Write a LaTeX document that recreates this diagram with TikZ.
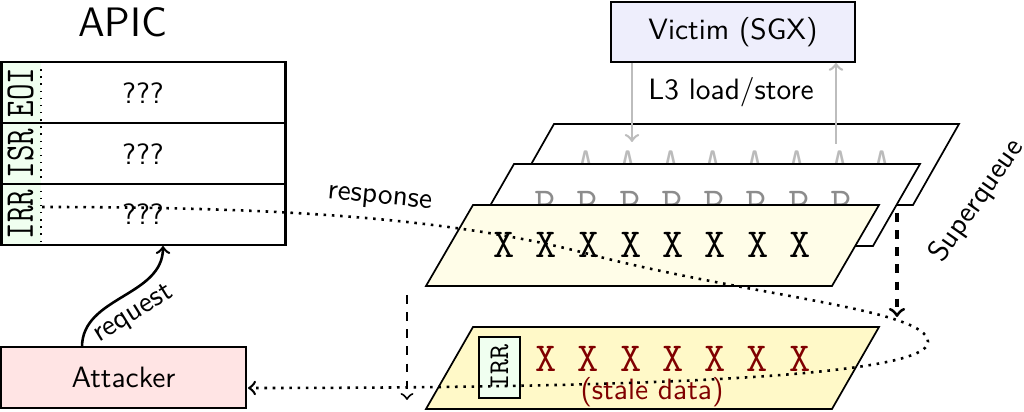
\documentclass[tikz,border=0pt]{standalone}
\usepackage{graphicx}
\usetikzlibrary{calc}
\definecolor{lblgreen}{HTML}{F0FFF0}
\definecolor{victimc}{HTML}{EEEEFC}
\definecolor{attc}{HTML}{FFE4E4}
\definecolor{frontc}{HTML}{FFFDE8}
\definecolor{lowerc}{HTML}{FFF9C8}
\definecolor{stalec}{HTML}{800000}
\definecolor{agray}{HTML}{BBBBBB}
\definecolor{pgray}{HTML}{8C8C8C}
\definecolor{arrgray}{HTML}{BDBDBD}
\begin{document}
\begin{tikzpicture}[x=0.35pt,y=-0.35pt,
  lbl/.style={font=\fontsize{10.3}{12}\selectfont\sffamily, inner sep=0pt},
  bigtt/.style={font=\fontsize{14.4}{16}\selectfont\ttfamily, inner sep=0pt, anchor=base},
  rowlbl/.style={font=\fontsize{14.4}{16}\selectfont\ttfamily, inner sep=0pt, rotate=90},
  plane/.style={draw=black, line width=0.6pt},
  boxn/.style={draw=black, line width=0.6pt, inner sep=0pt, font=\fontsize{10.3}{12}\selectfont\sffamily},
  garrow/.style={draw=arrgray, line width=0.9pt, ->},
  dasharrow/.style={draw=black, dashed, ->},
  resp/.style={draw=black, dotted, line width=0.9pt}
]
\useasboundingbox (0,0) rectangle (1024,412);

% ---------------- APIC ----------------
\node[font=\fontsize{14.4}{17}\selectfont\sffamily, inner sep=0pt] (apic) at (122.5,22) {APIC};
\fill[lblgreen] (1,62) rectangle (41,245);
\draw[dotted, line width=0.5pt] (41,62) -- (41,245);
\node[draw=black, line width=0.8pt, minimum width=99.4pt, minimum height=64.05pt, inner sep=0pt] (apicbox) at (143.5,153.5) {};
\draw[line width=0.6pt] (1,123) -- (286,123);
\draw[line width=0.6pt] (1,184) -- (286,184);
\node[rowlbl] (eoi) at (20.5,92.5) {\scalebox{0.78}[1]{EOI}};
\node[rowlbl] (isr) at (20.5,153.5) {\scalebox{0.78}[1]{ISR}};
\node[rowlbl] (irr) at (20.5,214.5) {\scalebox{0.78}[1]{IRR}};
\node[lbl] (q1) at (143,93) {???};
\node[lbl] (q2) at (143,154) {???};
\node[lbl] (q3) at (143,214.5) {???};

% ---------------- Attacker ----------------
\node[boxn, fill=attc, minimum width=85.75pt, minimum height=21.35pt] (attacker) at (123.5,377.5) {Attacker};

% ---------------- Victim ----------------
\node[boxn, fill=victimc, minimum width=85.4pt, minimum height=21pt] (victim) at (733,32) {Victim (SGX)};
\node[lbl] (l3) at (731,92) {L3 load/store};

% ---------------- Superqueue planes ----------------
\draw[plane, fill=white] (554,124) -- (959,124) -- (913,205) -- (508,205) -- cycle;
\foreach \i in {0,...,7} \node[bigtt, text=agray] (a\i) at ({586+42.3*\i},177) {A};
\draw[plane, fill=white] (514,164) -- (920,164) -- (873,246) -- (467,246) -- cycle;
\foreach \i in {0,...,7} \node[bigtt, text=pgray] (p\i) at ({545+42.3*\i},217) {P};
\draw[plane, fill=frontc] (473,205) -- (879,205) -- (832,286) -- (426,286) -- cycle;
\foreach \i in {0,...,7} \node[bigtt] (x\i) at ({504+42.3*\i},258) {X};

\draw[plane, fill=lowerc] (473,327) -- (879,327) -- (832,409) -- (426,409) -- cycle;
\node[draw=black, line width=0.5pt, fill=lblgreen, rotate=90, minimum width=21.35pt, minimum height=14.35pt, inner sep=0pt, font=\fontsize{10}{12}\selectfont\ttfamily] (irrq) at (499.5,367.5) {IRR};
\foreach \i in {0,...,6} \node[bigtt, text=stalec] (r\i) at ({546+42.3*\i},372) {X};
\node[lbl, text=stalec] (stale) at (652,392) {(stale data)};

\node[lbl, rotate=55] (sq) at (977,201) {Superqueue};

% ---------------- connectors ----------------
\coordinate (vdown) at (632,142);
\coordinate (vup) at (836,144);
\draw[garrow] (victim.south -| vdown) -- (vdown);
\draw[garrow] (vup) -- (victim.south -| vup);

\coordinate (dl1) at (407,295);
\coordinate (dl2) at (407,400);
\coordinate (dr1) at (897,213);
\coordinate (dr2) at (897,317);
\draw[dasharrow, line width=0.7pt] (dl1) -- (dl2);
\draw[dasharrow, line width=1.1pt] (dr1) -- (dr2);

\coordinate (reqs) at (82,347);
\coordinate (reqe) at (163,246);
\draw[line width=0.9pt, ->] (reqs) to[out=90, in=-90] node[pos=0.5, below, sloped, lbl, inner sep=3pt] (reqlbl) {request} (reqe);

\coordinate (rstart) at (42,207);
\coordinate (rturn) at (928,342);
\coordinate (rend) at (248,388);
\draw[resp, ->] (rstart) .. controls (300,207) and (465,220) .. (600,257)
  node[pos=0.52, above, sloped, lbl, inner sep=3pt] (resplbl) {response}
  .. controls (760,297) and (928,310) .. (rturn)
  .. controls (928,382) and (547,388) .. (rend);
\end{tikzpicture}
\end{document}
